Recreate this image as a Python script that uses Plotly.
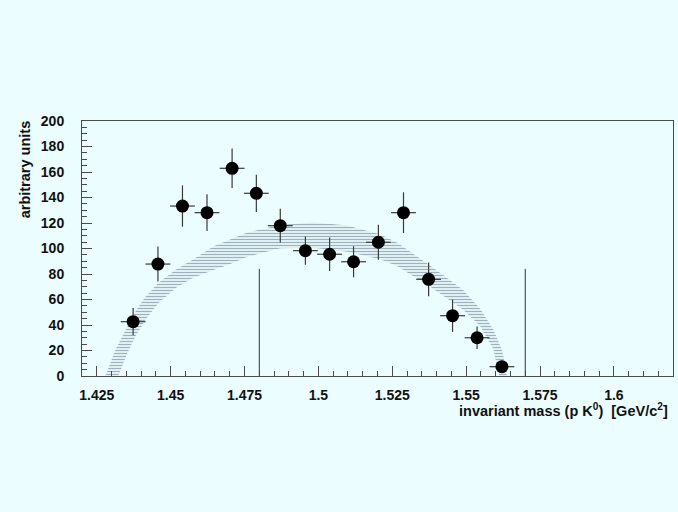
import plotly.graph_objects as go

# Measured spectrum: bin centres, counts and uncertainties
mass = [1.4373, 1.4457, 1.4540, 1.4623, 1.4708, 1.4790, 1.4871, 1.4956,
        1.5038, 1.5119, 1.5203, 1.5288, 1.5373, 1.5454, 1.5537, 1.5621]
counts = [42.6, 87.8, 133.3, 128.1, 162.9, 143.3, 117.9, 98.3,
          95.5, 89.6, 104.9, 128.1, 75.8, 47.3, 30.0, 7.3]
count_err = [10.7, 13.7, 16.2, 14.4, 15.5, 14.6, 13.2, 11.1,
             13.1, 12.2, 13.7, 16.0, 13.3, 12.7, 8.8, 5.0]
bin_half_width = 0.0042

# Background expectation band (upper and lower edges)
band_upper_x = [1.4279, 1.4313, 1.4347, 1.4380, 1.4414, 1.4458, 1.4516, 1.4584,
                1.4644, 1.4759, 1.4871, 1.4983, 1.5098, 1.5210, 1.5267, 1.5379,
                1.5490, 1.5548, 1.5592, 1.5622, 1.5639]
band_upper_y = [0.0, 20.4, 36.1, 50.2, 62.0, 73.0, 83.1, 92.5,
                101.5, 112.5, 118.5, 120.5, 118.0, 111.0, 104.5, 86.5,
                67.5, 52.5, 36.5, 20.0, 0.0]
band_lower_x = [1.4323, 1.4353, 1.4380, 1.4414, 1.4458, 1.4516, 1.4573, 1.4644,
                1.4702, 1.4759, 1.4871, 1.4983, 1.5098, 1.5210, 1.5267, 1.5379,
                1.5490, 1.5548, 1.5592, 1.5612]
band_lower_y = [0.0, 17.8, 30.8, 43.9, 57.0, 68.8, 76.6, 83.1,
                87.8, 93.6, 100.2, 100.5, 97.5, 91.5, 86.0, 70.0,
                52.0, 39.0, 21.0, 0.0]

# Reference mass markers
marker_mass = [1.48, 1.57]
marker_height = 84

x_ticks = [1.425, 1.45, 1.475, 1.5, 1.525, 1.55, 1.575, 1.6]
x_tick_text = ["1.425", "1.45", "1.475", "1.5", "1.525", "1.55", "1.575", "1.6"]
y_ticks = [0, 20, 40, 60, 80, 100, 120, 140, 160, 180, 200]

BG = "#ebfdfe"
FONT = "Liberation Sans, Arial, sans-serif"

fig = go.Figure()

# hatched band
fig.add_trace(go.Scatter(
    x=band_upper_x + band_lower_x[::-1],
    y=band_upper_y + band_lower_y[::-1],
    mode="lines", fill="toself",
    line=dict(width=0, color="rgba(0,0,0,0)"),
    fillcolor="rgba(0,0,0,0)",
    fillpattern=dict(shape="-", fgcolor="#54667e", bgcolor="rgba(0,0,0,0)",
                     size=3, solidity=0.45),
    hoverinfo="skip", showlegend=False,
))

# vertical mass markers
for m in marker_mass:
    fig.add_trace(go.Scatter(
        x=[m, m], y=[0, marker_height], mode="lines",
        line=dict(color="#333333", width=1),
        hoverinfo="skip", showlegend=False,
    ))

# data points with error bars
fig.add_trace(go.Scatter(
    x=mass, y=counts, mode="markers",
    marker=dict(symbol="circle", size=13, color="black"),
    error_y=dict(type="data", array=count_err, color="#3a3a3a", thickness=1.2, width=0),
    error_x=dict(type="constant", value=bin_half_width, color="#3a3a3a", thickness=1.2, width=0),
    showlegend=False,
))

axis_common = dict(
    showline=True, linecolor="#4a4a4a", linewidth=1, mirror=True,
    showgrid=False, zeroline=False,
    ticks="inside", tickcolor="#4a4a4a", tickwidth=1, ticklen=10,
    tickfont=dict(family=FONT, size=14, color="#111111", weight="bold"),
)

fig.update_xaxes(
    range=[1.42, 1.62], tickvals=x_ticks, ticktext=x_tick_text,
    minor=dict(tick0=1.42, dtick=0.005, ticks="inside", ticklen=5,
               tickcolor="#4a4a4a", tickwidth=1, showgrid=False),
    ticklabelstandoff=6,
    **axis_common,
)
fig.update_yaxes(
    range=[0, 200], tickvals=y_ticks,
    minor=dict(tick0=0, dtick=5, ticks="inside", ticklen=5,
               tickcolor="#4a4a4a", tickwidth=1, showgrid=False),
    ticklabelstandoff=14,
    **axis_common,
)

fig.update_layout(
    width=678, height=512,
    margin=dict(l=82, r=5, t=121, b=136),
    paper_bgcolor=BG, plot_bgcolor=BG,
    annotations=[
        dict(text="arbitrary units", textangle=-90,
             xref="paper", yref="paper", x=-0.095, y=1.01,
             xanchor="center", yanchor="top", showarrow=False,
             font=dict(family=FONT, size=14.5, color="#111111", weight="bold")),
        dict(text="invariant mass (p K<sup>0</sup>)  [GeV/c<sup>2</sup>]",
             xref="paper", yref="paper", x=0.995, y=-0.09,
             xanchor="right", yanchor="top", showarrow=False,
             font=dict(family=FONT, size=14.5, color="#111111", weight="bold")),
    ],
)

fig.write_html("out.html")
